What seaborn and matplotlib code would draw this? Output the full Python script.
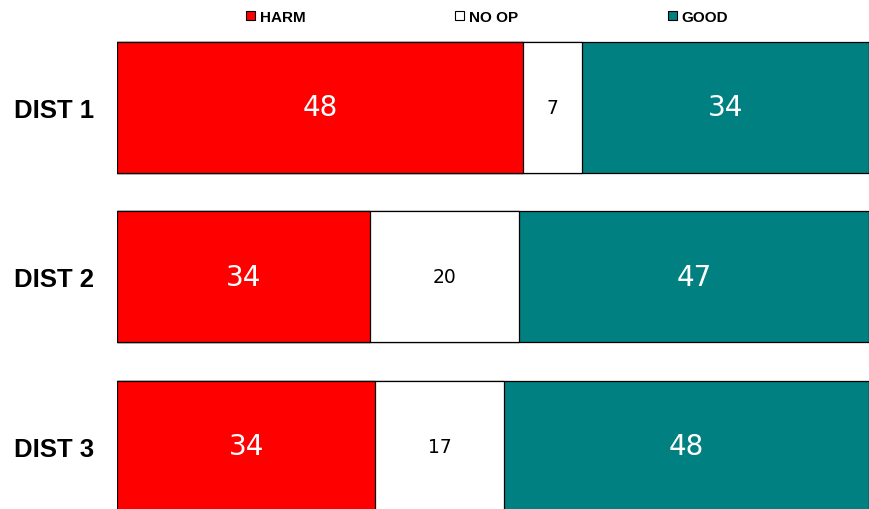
import seaborn as sns
import matplotlib.pyplot as plt
import matplotlib.patches as mpatches
import pandas as pd

categories = ['DIST 1', 'DIST 2', 'DIST 3']
harm = [48, 34, 34]
noop = [7, 20, 17]
good = [34, 47, 48]
series_names = ['HARM', 'NO OP', 'GOOD']
colors = ['#FF0000', '#FFFFFF', '#008080']

df = pd.DataFrame({'cat': categories, 'HARM': harm, 'NO OP': noop, 'GOOD': good})
total = df['HARM'] + df['NO OP'] + df['GOOD']
df['p_harm'] = df['HARM'] / total * 100
df['p_noop'] = df['NO OP'] / total * 100
df['p_good'] = df['GOOD'] / total * 100
df['c1'] = df['p_harm']
df['c2'] = df['p_harm'] + df['p_noop']
df['c3'] = df['c2'] + df['p_good']

sns.set_style('white')
plt.rcParams['font.family'] = ['DejaVu Sans']
plt.rcParams['text.color'] = 'black'

fig = plt.figure(figsize=(8.7, 5.1), dpi=100)
ax = fig.add_axes([117 / 870, 0, 752 / 870, 1])

# stacked bars drawn as cumulative layers, back to front
for col, color in zip(['c3', 'c2', 'c1'], [colors[2], colors[1], colors[0]]):
    sns.barplot(data=df, x=col, y='cat', orient='h', color=color, width=0.773,
                edgecolor='black', linewidth=0.9, saturation=1, ax=ax)

ax.set_xlim(0, 100)
ax.set_ylim(2.37, -0.64)
ax.set_xlabel('')
ax.set_ylabel('')
ax.set_xticks([])
ax.set_yticks(range(3))
ax.set_yticklabels(categories, fontsize=18.5, fontweight='bold',
                   family='Liberation Sans', color='black')
ax.tick_params(axis='y', length=0, pad=16.5)
for s in ax.spines.values():
    s.set_visible(False)

for i in range(len(df)):
    r = df.iloc[i]
    ax.text(r['p_harm'] / 2, i, str(r['HARM']), ha='center', va='center',
            color='white', fontsize=20)
    ax.text(r['c1'] + r['p_noop'] / 2, i, str(r['NO OP']), ha='center',
            va='center', color='black', fontsize=13.5)
    ax.text(r['c2'] + r['p_good'] / 2, i, str(r['GOOD']), ha='center',
            va='center', color='white', fontsize=20)

handles = [mpatches.Patch(facecolor=c, edgecolor='black', linewidth=0.8, label=n)
           for c, n in zip(colors, series_names)]
fig.legend(handles=handles, loc='center', bbox_to_anchor=(0.56, 0.965), ncol=3,
           frameon=False, handlelength=0.6, handleheight=0.6, handletextpad=0.3,
           columnspacing=9.8, labelcolor='black',
           prop={'family': 'Liberation Sans', 'weight': 'bold', 'size': 11})

fig.savefig('out.png', dpi=100)
